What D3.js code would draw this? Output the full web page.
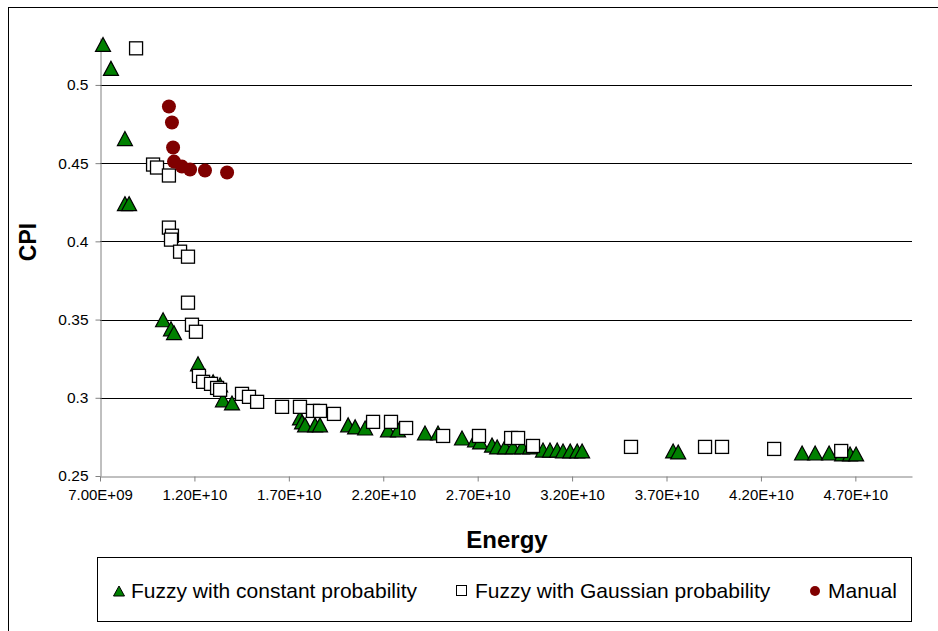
<!DOCTYPE html>
<html><head><meta charset="utf-8">
<script src="https://cdn.jsdelivr.net/npm/d3@7"></script>
<style>body{margin:0;background:#fff}svg{display:block}text{font-family:"Liberation Sans",Arial,sans-serif}</style>
</head><body>
<svg id="c" width="938" height="631"></svg>
<script>
// Fuzzy with constant probability [energy, cpi]
const constEnergy = [7.16e9,7.58e9,8.32e9,8.32e9,8.54e9,10.34e9,10.76e9,10.92e9,12.19e9,12.99e9,13.36e9,13.51e9,13.99e9,17.59e9,17.70e9,17.86e9,18.39e9,18.65e9,20.14e9,20.51e9,21.04e9,22.25e9,22.78e9,24.21e9,24.90e9,26.17e9,26.86e9,27.13e9,27.76e9,28.03e9,28.45e9,28.87e9,29.35e9,29.78e9,30.46e9,30.83e9,31.21e9,31.52e9,31.90e9,32.27e9,32.53e9,37.35e9,37.62e9,44.18e9,44.87e9,45.61e9,46.30e9,46.72e9,47.04e9];
const constCPI = [0.5259,0.5106,0.4657,0.4241,0.4241,0.3499,0.3441,0.3416,0.3217,0.3102,0.3083,0.2987,0.2967,0.2871,0.2846,0.2827,0.2827,0.2827,0.2827,0.2814,0.2807,0.2795,0.2795,0.2775,0.2775,0.2743,0.2730,0.2718,0.2698,0.2686,0.2686,0.2686,0.2686,0.2686,0.2666,0.2666,0.2666,0.2660,0.2660,0.2660,0.2660,0.2660,0.2654,0.2647,0.2647,0.2647,0.2641,0.2641,0.2641];
// Fuzzy with Gaussian probability
const gaussEnergy = [8.91e9,9.81e9,10.02e9,10.65e9,10.65e9,10.81e9,10.76e9,11.24e9,11.66e9,11.66e9,11.87e9,12.08e9,12.24e9,12.46e9,12.88e9,13.20e9,13.36e9,14.52e9,14.89e9,15.32e9,16.64e9,17.59e9,18.28e9,18.65e9,19.39e9,21.46e9,22.41e9,23.21e9,25.17e9,27.07e9,28.77e9,29.14e9,29.93e9,35.12e9,39.04e9,39.94e9,42.70e9,46.25e9];
const gaussCPI = [0.5234,0.4491,0.4472,0.4421,0.4088,0.4036,0.4011,0.3934,0.3902,0.3608,0.3467,0.3422,0.3140,0.3102,0.3089,0.3063,0.3051,0.3025,0.3006,0.2974,0.2942,0.2942,0.2916,0.2916,0.2897,0.2846,0.2846,0.2807,0.2756,0.2756,0.2743,0.2743,0.2692,0.2686,0.2686,0.2686,0.2673,0.2660];
// Manual
const manualEnergy = [10.65e9,10.81e9,10.87e9,10.92e9,11.34e9,11.77e9,12.56e9,13.73e9];
const manualCPI = [0.4862,0.4760,0.4600,0.4510,0.4478,0.4459,0.4453,0.4440];

const xTicks = [7e9,12e9,17e9,22e9,27e9,32e9,37e9,42e9,47e9];
const yTicks = [0.25,0.3,0.35,0.4,0.45,0.5];
const seriesNames = ["Fuzzy with constant probability","Fuzzy with Gaussian probability","Manual"];

const svg = d3.select("#c");
const L=100, R=912, T=38, B=476;
const x = d3.scaleLinear().domain([7e9,5e10]).range([L,R]);
const y = d3.scaleLinear().domain([0.25,0.53]).range([B,T]);

// outer border
svg.append("rect").attr("x",8.5).attr("y",7.5).attr("width",960).attr("height",700)
  .attr("fill","none").attr("stroke","#000").attr("stroke-width",1);

// gridlines
svg.append("g").selectAll("line").data(yTicks.filter(d=>d>0.25)).join("line")
  .attr("x1",L).attr("x2",R).attr("y1",d=>Math.round(y(d))+0.5).attr("y2",d=>Math.round(y(d))+0.5)
  .attr("stroke","#000").attr("stroke-width",1);

// y axis
const yAxis = svg.append("g").attr("transform",`translate(${L+0.5},0)`)
  .call(d3.axisLeft(y).tickValues(yTicks).tickFormat(d=>String(+d.toFixed(2))).tickSize(5).tickSizeOuter(0));
yAxis.select(".domain").attr("stroke","#808080");
yAxis.selectAll(".tick line").attr("stroke","#808080");
yAxis.selectAll("text").attr("font-size",15.5).attr("fill","#000").attr("x",-12);

// x axis
const xAxis = svg.append("g").attr("transform",`translate(0,${B+0.5})`)
  .call(d3.axisBottom(x).tickValues(xTicks).tickFormat(d=>d.toExponential(2).toUpperCase().replace(/E\+(\d)$/,"E+0$1")).tickSize(5).tickSizeOuter(0));
xAxis.select(".domain").attr("stroke","#808080");
xAxis.selectAll(".tick line").attr("stroke","#808080");
xAxis.selectAll("text").attr("font-size",15).attr("fill","#000").attr("y",13);

// titles
svg.append("text").attr("x",507).attr("y",548).attr("text-anchor","middle")
  .attr("font-size",24).attr("font-weight","bold").text("Energy");
svg.append("text").attr("transform","translate(36,242) rotate(-90)").attr("text-anchor","middle")
  .attr("font-size",23).attr("font-weight","bold").text("CPI");

const constData = constEnergy.map((e,i)=>[e,constCPI[i]]);
const gaussData = gaussEnergy.map((e,i)=>[e,gaussCPI[i]]);
const manData = manualEnergy.map((e,i)=>[e,manualCPI[i]]);

function triPath(w,h){return `M0,${-h/2}L${w/2},${h/2}L${-w/2},${h/2}Z`;}

svg.append("g").selectAll("path").data(constData).join("path")
  .attr("d",triPath(15,14)).attr("transform",d=>`translate(${x(d[0])},${y(d[1])})`)
  .attr("fill","#008000").attr("stroke","#000").attr("stroke-width",1.2);
svg.append("g").selectAll("rect").data(gaussData).join("rect")
  .attr("x",d=>x(d[0])-6.5).attr("y",d=>y(d[1])-6.5).attr("width",13).attr("height",13)
  .attr("fill","#fff").attr("stroke","#000").attr("stroke-width",1.3);
svg.append("g").selectAll("circle").data(manData).join("circle")
  .attr("cx",d=>x(d[0])).attr("cy",d=>y(d[1])).attr("r",7)
  .attr("fill","#800000");

// legend
svg.append("rect").attr("x",97.5).attr("y",557.5).attr("width",814).attr("height",64)
  .attr("fill","#fff").attr("stroke","#000").attr("stroke-width",1);
const ly = 591;
const lg = svg.append("g");
lg.append("path").attr("d",triPath(11,10)).attr("transform",`translate(119,${ly})`)
  .attr("fill","#008000").attr("stroke","#000").attr("stroke-width",1);
lg.append("rect").attr("x",456.5).attr("y",ly-5.5).attr("width",10).attr("height",10)
  .attr("fill","#fff").attr("stroke","#000").attr("stroke-width",1);
lg.append("circle").attr("cx",815).attr("cy",ly).attr("r",5).attr("fill","#800000");
const lx = [131,475,828];
seriesNames.forEach((n,i)=>{
  lg.append("text").attr("x",lx[i]).attr("y",ly).attr("dy","0.35em").attr("font-size",21).text(n);
});
</script>
</body></html>
